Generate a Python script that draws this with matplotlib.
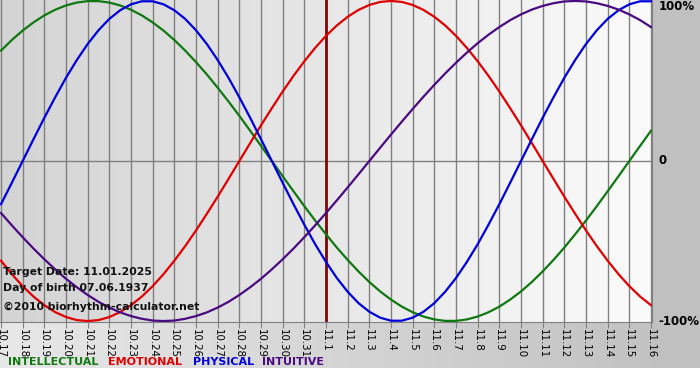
import numpy as np
import matplotlib.pyplot as plt
from matplotlib.colors import LinearSegmentedColormap

# day labels (month.day) shown under the chart
day_labels = ['10.17', '10.18', '10.19', '10.20', '10.21', '10.22', '10.23', '10.24',
              '10.25', '10.26', '10.27', '10.28', '10.29', '10.30', '10.31',
              '11.1', '11.2', '11.3', '11.4', '11.5', '11.6', '11.7', '11.8',
              '11.9', '11.10', '11.11', '11.12', '11.13', '11.14', '11.15', '11.16']
target_day = '11.1'

# values every half day, from 10.17 to 11.16 (-1 .. 1)
intellectual = [0.690, 0.756, 0.815, 0.866, 0.910, 0.945, 0.972, 0.990, 0.999, 0.999,
                0.990, 0.972, 0.945, 0.910, 0.866, 0.815, 0.756, 0.690, 0.618, 0.541,
                0.458, 0.372, 0.282, 0.189, 0.095, 0.000, -0.095, -0.189, -0.282, -0.372,
                -0.458, -0.541, -0.618, -0.690, -0.756, -0.815, -0.866, -0.910, -0.945, -0.972,
                -0.990, -0.999, -0.999, -0.990, -0.972, -0.945, -0.910, -0.866, -0.815, -0.756,
                -0.690, -0.618, -0.541, -0.458, -0.372, -0.282, -0.189, -0.095, 0.000, 0.095,
                0.189]
emotional = [-0.623, -0.707, -0.782, -0.847, -0.901, -0.944, -0.975, -0.994, -1.000, -0.994,
             -0.975, -0.944, -0.901, -0.847, -0.782, -0.707, -0.623, -0.532, -0.434, -0.330,
             -0.223, -0.112, 0.000, 0.112, 0.223, 0.330, 0.434, 0.532, 0.623, 0.707,
             0.782, 0.847, 0.901, 0.944, 0.975, 0.994, 1.000, 0.994, 0.975, 0.944,
             0.901, 0.847, 0.782, 0.707, 0.623, 0.532, 0.434, 0.330, 0.223, 0.112,
             0.000, -0.112, -0.223, -0.330, -0.434, -0.532, -0.623, -0.707, -0.782, -0.847,
             -0.901]
physical = [-0.270, -0.136, 0.000, 0.136, 0.270, 0.398, 0.520, 0.631, 0.731, 0.817,
            0.888, 0.942, 0.979, 0.998, 0.998, 0.979, 0.942, 0.888, 0.817, 0.731,
            0.631, 0.520, 0.398, 0.270, 0.136, 0.000, -0.136, -0.270, -0.398, -0.520,
            -0.631, -0.731, -0.817, -0.888, -0.942, -0.979, -0.998, -0.998, -0.979, -0.942,
            -0.888, -0.817, -0.731, -0.631, -0.520, -0.398, -0.270, -0.136, 0.000, 0.136,
            0.270, 0.398, 0.520, 0.631, 0.731, 0.817, 0.888, 0.942, 0.979, 0.998,
            0.998]
intuitive = [-0.325, -0.402, -0.476, -0.547, -0.614, -0.677, -0.736, -0.789, -0.837, -0.880,
             -0.916, -0.946, -0.969, -0.986, -0.997, -1.000, -0.997, -0.986, -0.969, -0.946,
             -0.916, -0.880, -0.837, -0.789, -0.736, -0.677, -0.614, -0.547, -0.476, -0.402,
             -0.325, -0.246, -0.165, -0.083, 0.000, 0.083, 0.165, 0.246, 0.325, 0.402,
             0.476, 0.547, 0.614, 0.677, 0.736, 0.789, 0.837, 0.880, 0.916, 0.946,
             0.969, 0.986, 0.997, 1.000, 0.997, 0.986, 0.969, 0.946, 0.916, 0.880,
             0.837]

series = [('INTELLECTUAL', intellectual, '#107810'),
          ('EMOTIONAL', emotional, '#e00000'),
          ('PHYSICAL', physical, '#0000d8'),
          ('INTUITIVE', intuitive, '#4b0a82')]

W, H = 700, 380
fig = plt.figure(figsize=(W / 100, H / 100), dpi=100)
fig.patch.set_facecolor('white')

# background panels in pixel coordinates
bg = fig.add_axes([0, 0, 1, 1])
bg.axis('off')
grad = np.linspace(0, 1, 256).reshape(1, -1)
bottom_cmap = LinearSegmentedColormap.from_list('bottom', ['#e8e8e8', '#c0c0c0'])
bg.imshow(grad, cmap=bottom_cmap, extent=(0, W, 368, 321), aspect='auto')
bg.add_patch(plt.Rectangle((652, 0), 48, 368, color='#c0c0c0', lw=0))
bg.set_xlim(0, W)
bg.set_ylim(H, 0)

# main chart
ax = fig.add_axes([0, 1 - 322 / H, 652 / W, 322 / H])
x = np.arange(len(day_labels))
pad = 1 / 21.67
ax.set_xlim(-pad, x[-1] + pad)
ax.set_ylim(-1.006, 1.006)

plot_cmap = LinearSegmentedColormap.from_list('plot', ['#d4d4d4', '#fbfbfb'])
ax.imshow(grad, cmap=plot_cmap, extent=(-pad, x[-1] + pad, -1.006, 1.006),
          aspect='auto', zorder=0)

for xi in x:
    ax.axvline(xi, color='#808080', lw=1, zorder=1)
ax.axhline(0, color='#808080', lw=1, zorder=1)
ax.axvline(day_labels.index(target_day), color='#7a0a0a', lw=2, zorder=2)

for name, vals, col in series:
    xs = np.arange(len(vals)) * 0.5
    ax.plot(xs, vals, color=col, lw=1.6, zorder=3)

for side in ['left', 'top']:
    ax.spines[side].set_visible(False)
for side in ['right', 'bottom']:
    ax.spines[side].set_color('#808080')

ax.set_yticks([])
ax.set_xticks(x)
ax.set_xticklabels(day_labels, rotation=270, fontsize=7.4, ha='center', va='top')
ax.tick_params(axis='x', direction='out', length=4, color='#808080', pad=1)

# right-hand percentage labels
tr = ax.get_yaxis_transform()
ax.text(1.01, 1.006, '100%', transform=tr, ha='left', va='top',
        fontsize=8.5, fontweight='bold', clip_on=False)
ax.text(1.01, 0, '0', transform=tr, ha='left', va='center',
        fontsize=8.5, fontweight='bold', clip_on=False)
ax.text(1.01, -1.0, '-100%', transform=tr, ha='left', va='center',
        fontsize=8.5, fontweight='bold', clip_on=False)

# info texts
info = ['Target Date: 11.01.2025', 'Day of birth 07.06.1937', '\u00a92010 biorhythm-calculator.net']
for txt, ypix in zip(info, [272, 288, 307]):
    fig.text(3 / W, 1 - ypix / H, txt, ha='left', va='center',
             fontsize=7.8, fontweight='bold', color='#111111')

# legend row
for (name, vals, col), xpix in zip(series, [8, 108, 193, 262]):
    fig.text(xpix / W, 1 - 362 / H, name, ha='left', va='center',
             fontsize=8, fontweight='bold', color=col)

fig.savefig('out.png', dpi=100)
